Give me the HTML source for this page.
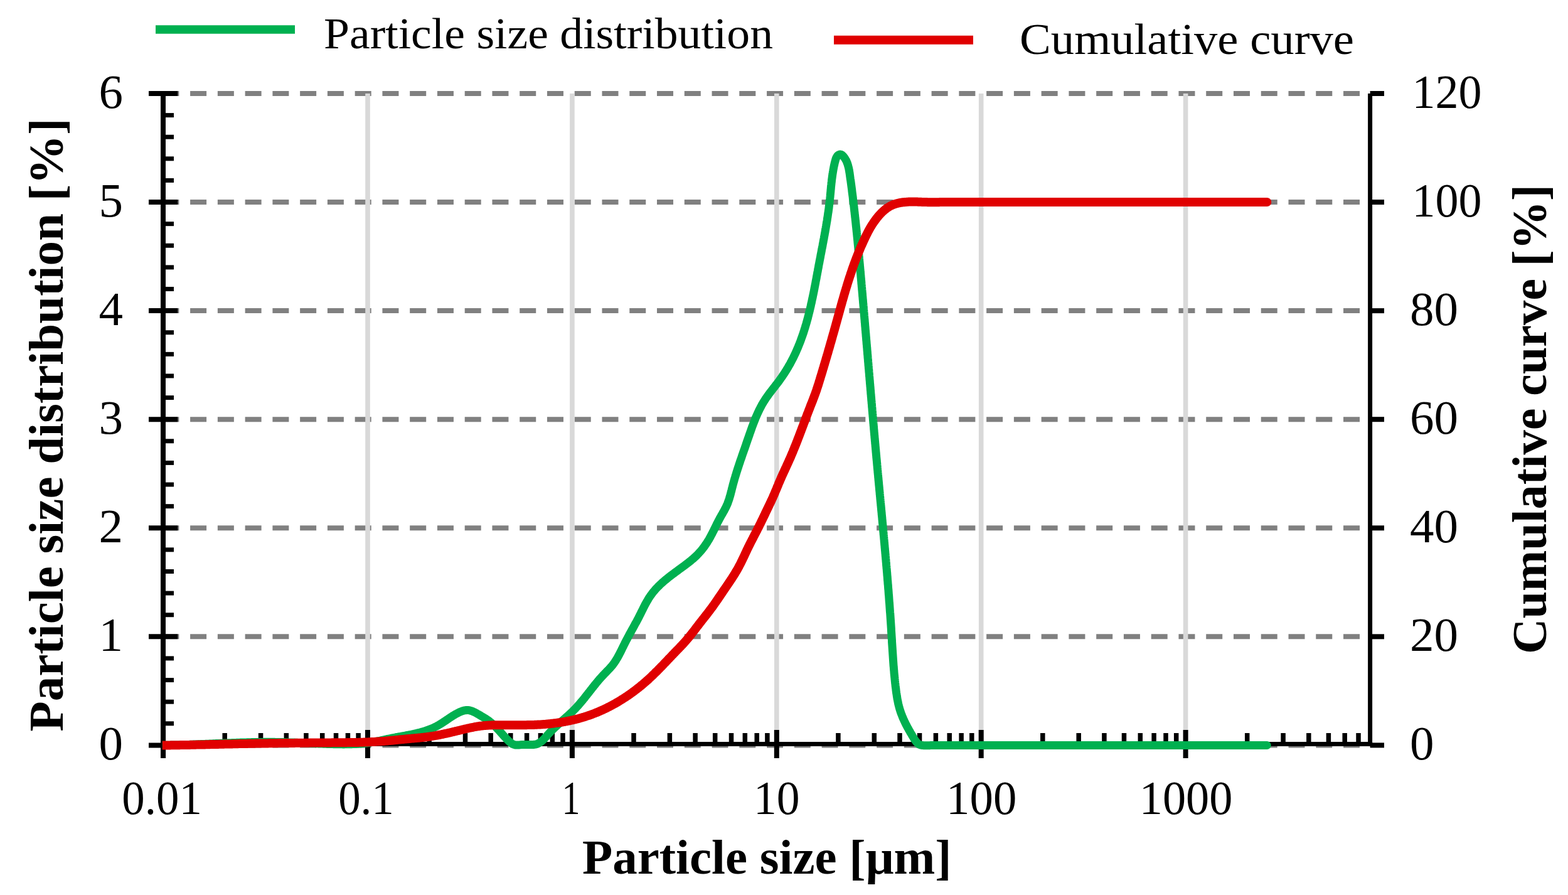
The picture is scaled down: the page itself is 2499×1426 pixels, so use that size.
<!DOCTYPE html><html><head><meta charset="utf-8"><title>Particle size distribution</title><style>html,body{margin:0;padding:0;background:#fff;width:2499px;height:1426px;overflow:hidden}svg{display:block}text{font-family:"Liberation Serif",serif;fill:#000}</style></head><body>
<svg width="2499" height="1426" viewBox="0 0 2499 1426">
<rect width="2499" height="1426" fill="#fff"/>
<line x1="259.34" y1="1187.40" x2="2183.6" y2="1187.40" stroke="#808080" stroke-width="8" stroke-dasharray="26 17.76"/>
<line x1="259.34" y1="1014.33" x2="2183.6" y2="1014.33" stroke="#808080" stroke-width="8" stroke-dasharray="26 17.76"/>
<line x1="259.34" y1="841.26" x2="2183.6" y2="841.26" stroke="#808080" stroke-width="8" stroke-dasharray="26 17.76"/>
<line x1="259.34" y1="668.19" x2="2183.6" y2="668.19" stroke="#808080" stroke-width="8" stroke-dasharray="26 17.76"/>
<line x1="259.34" y1="495.12" x2="2183.6" y2="495.12" stroke="#808080" stroke-width="8" stroke-dasharray="26 17.76"/>
<line x1="259.34" y1="322.05" x2="2183.6" y2="322.05" stroke="#808080" stroke-width="8" stroke-dasharray="26 17.76"/>
<line x1="259.34" y1="148.98" x2="2183.6" y2="148.98" stroke="#808080" stroke-width="8" stroke-dasharray="26 17.76"/>
<line x1="586.00" y1="149" x2="586.00" y2="1186" stroke="#d9d9d9" stroke-width="7.6"/>
<line x1="911.90" y1="149" x2="911.90" y2="1186" stroke="#d9d9d9" stroke-width="7.6"/>
<line x1="1237.80" y1="149" x2="1237.80" y2="1186" stroke="#d9d9d9" stroke-width="7.6"/>
<line x1="1563.70" y1="149" x2="1563.70" y2="1186" stroke="#d9d9d9" stroke-width="7.6"/>
<line x1="1889.60" y1="149" x2="1889.60" y2="1186" stroke="#d9d9d9" stroke-width="7.6"/>
<line x1="260" y1="147" x2="260" y2="1208" stroke="#000" stroke-width="8"/>
<line x1="2183.6" y1="149" x2="2183.6" y2="1188.8" stroke="#000" stroke-width="7"/>
<line x1="256" y1="1185.4" x2="2187.1" y2="1185.4" stroke="#000" stroke-width="7"/>
<line x1="237" y1="1187.40" x2="283.3" y2="1187.40" stroke="#000" stroke-width="8"/>
<line x1="262" y1="1152.79" x2="277" y2="1152.79" stroke="#000" stroke-width="7"/>
<line x1="262" y1="1118.17" x2="277" y2="1118.17" stroke="#000" stroke-width="7"/>
<line x1="262" y1="1083.56" x2="277" y2="1083.56" stroke="#000" stroke-width="7"/>
<line x1="262" y1="1048.94" x2="277" y2="1048.94" stroke="#000" stroke-width="7"/>
<line x1="237" y1="1014.33" x2="283.3" y2="1014.33" stroke="#000" stroke-width="8"/>
<line x1="262" y1="979.72" x2="277" y2="979.72" stroke="#000" stroke-width="7"/>
<line x1="262" y1="945.10" x2="277" y2="945.10" stroke="#000" stroke-width="7"/>
<line x1="262" y1="910.49" x2="277" y2="910.49" stroke="#000" stroke-width="7"/>
<line x1="262" y1="875.87" x2="277" y2="875.87" stroke="#000" stroke-width="7"/>
<line x1="237" y1="841.26" x2="283.3" y2="841.26" stroke="#000" stroke-width="8"/>
<line x1="262" y1="806.65" x2="277" y2="806.65" stroke="#000" stroke-width="7"/>
<line x1="262" y1="772.03" x2="277" y2="772.03" stroke="#000" stroke-width="7"/>
<line x1="262" y1="737.42" x2="277" y2="737.42" stroke="#000" stroke-width="7"/>
<line x1="262" y1="702.80" x2="277" y2="702.80" stroke="#000" stroke-width="7"/>
<line x1="237" y1="668.19" x2="283.3" y2="668.19" stroke="#000" stroke-width="8"/>
<line x1="262" y1="633.58" x2="277" y2="633.58" stroke="#000" stroke-width="7"/>
<line x1="262" y1="598.96" x2="277" y2="598.96" stroke="#000" stroke-width="7"/>
<line x1="262" y1="564.35" x2="277" y2="564.35" stroke="#000" stroke-width="7"/>
<line x1="262" y1="529.73" x2="277" y2="529.73" stroke="#000" stroke-width="7"/>
<line x1="237" y1="495.12" x2="283.3" y2="495.12" stroke="#000" stroke-width="8"/>
<line x1="262" y1="460.51" x2="277" y2="460.51" stroke="#000" stroke-width="7"/>
<line x1="262" y1="425.89" x2="277" y2="425.89" stroke="#000" stroke-width="7"/>
<line x1="262" y1="391.28" x2="277" y2="391.28" stroke="#000" stroke-width="7"/>
<line x1="262" y1="356.66" x2="277" y2="356.66" stroke="#000" stroke-width="7"/>
<line x1="237" y1="322.05" x2="283.3" y2="322.05" stroke="#000" stroke-width="8"/>
<line x1="262" y1="287.44" x2="277" y2="287.44" stroke="#000" stroke-width="7"/>
<line x1="262" y1="252.82" x2="277" y2="252.82" stroke="#000" stroke-width="7"/>
<line x1="262" y1="218.21" x2="277" y2="218.21" stroke="#000" stroke-width="7"/>
<line x1="262" y1="183.59" x2="277" y2="183.59" stroke="#000" stroke-width="7"/>
<line x1="237" y1="148.98" x2="283.3" y2="148.98" stroke="#000" stroke-width="8"/>
<line x1="2183.6" y1="1187.40" x2="2206" y2="1187.40" stroke="#000" stroke-width="8"/>
<line x1="2183.6" y1="1014.33" x2="2206" y2="1014.33" stroke="#000" stroke-width="8"/>
<line x1="2183.6" y1="841.26" x2="2206" y2="841.26" stroke="#000" stroke-width="8"/>
<line x1="2183.6" y1="668.19" x2="2206" y2="668.19" stroke="#000" stroke-width="8"/>
<line x1="2183.6" y1="495.12" x2="2206" y2="495.12" stroke="#000" stroke-width="8"/>
<line x1="2183.6" y1="322.05" x2="2206" y2="322.05" stroke="#000" stroke-width="8"/>
<line x1="2183.6" y1="148.98" x2="2206" y2="148.98" stroke="#000" stroke-width="8"/>
<line x1="260.10" y1="1163" x2="260.10" y2="1208" stroke="#000" stroke-width="8"/>
<line x1="358.21" y1="1168" x2="358.21" y2="1186" stroke="#000" stroke-width="7.5"/>
<line x1="415.59" y1="1168" x2="415.59" y2="1186" stroke="#000" stroke-width="7.5"/>
<line x1="456.31" y1="1168" x2="456.31" y2="1186" stroke="#000" stroke-width="7.5"/>
<line x1="487.89" y1="1168" x2="487.89" y2="1186" stroke="#000" stroke-width="7.5"/>
<line x1="513.70" y1="1168" x2="513.70" y2="1186" stroke="#000" stroke-width="7.5"/>
<line x1="535.52" y1="1168" x2="535.52" y2="1186" stroke="#000" stroke-width="7.5"/>
<line x1="554.42" y1="1168" x2="554.42" y2="1186" stroke="#000" stroke-width="7.5"/>
<line x1="571.09" y1="1168" x2="571.09" y2="1186" stroke="#000" stroke-width="7.5"/>
<line x1="586.00" y1="1163" x2="586.00" y2="1208" stroke="#000" stroke-width="8"/>
<line x1="684.11" y1="1168" x2="684.11" y2="1186" stroke="#000" stroke-width="7.5"/>
<line x1="741.49" y1="1168" x2="741.49" y2="1186" stroke="#000" stroke-width="7.5"/>
<line x1="782.21" y1="1168" x2="782.21" y2="1186" stroke="#000" stroke-width="7.5"/>
<line x1="813.79" y1="1168" x2="813.79" y2="1186" stroke="#000" stroke-width="7.5"/>
<line x1="839.60" y1="1168" x2="839.60" y2="1186" stroke="#000" stroke-width="7.5"/>
<line x1="861.42" y1="1168" x2="861.42" y2="1186" stroke="#000" stroke-width="7.5"/>
<line x1="880.32" y1="1168" x2="880.32" y2="1186" stroke="#000" stroke-width="7.5"/>
<line x1="896.99" y1="1168" x2="896.99" y2="1186" stroke="#000" stroke-width="7.5"/>
<line x1="911.90" y1="1163" x2="911.90" y2="1208" stroke="#000" stroke-width="8"/>
<line x1="1010.01" y1="1168" x2="1010.01" y2="1186" stroke="#000" stroke-width="7.5"/>
<line x1="1067.39" y1="1168" x2="1067.39" y2="1186" stroke="#000" stroke-width="7.5"/>
<line x1="1108.11" y1="1168" x2="1108.11" y2="1186" stroke="#000" stroke-width="7.5"/>
<line x1="1139.69" y1="1168" x2="1139.69" y2="1186" stroke="#000" stroke-width="7.5"/>
<line x1="1165.50" y1="1168" x2="1165.50" y2="1186" stroke="#000" stroke-width="7.5"/>
<line x1="1187.32" y1="1168" x2="1187.32" y2="1186" stroke="#000" stroke-width="7.5"/>
<line x1="1206.22" y1="1168" x2="1206.22" y2="1186" stroke="#000" stroke-width="7.5"/>
<line x1="1222.89" y1="1168" x2="1222.89" y2="1186" stroke="#000" stroke-width="7.5"/>
<line x1="1237.80" y1="1163" x2="1237.80" y2="1208" stroke="#000" stroke-width="8"/>
<line x1="1335.91" y1="1168" x2="1335.91" y2="1186" stroke="#000" stroke-width="7.5"/>
<line x1="1393.29" y1="1168" x2="1393.29" y2="1186" stroke="#000" stroke-width="7.5"/>
<line x1="1434.01" y1="1168" x2="1434.01" y2="1186" stroke="#000" stroke-width="7.5"/>
<line x1="1465.59" y1="1168" x2="1465.59" y2="1186" stroke="#000" stroke-width="7.5"/>
<line x1="1491.40" y1="1168" x2="1491.40" y2="1186" stroke="#000" stroke-width="7.5"/>
<line x1="1513.22" y1="1168" x2="1513.22" y2="1186" stroke="#000" stroke-width="7.5"/>
<line x1="1532.12" y1="1168" x2="1532.12" y2="1186" stroke="#000" stroke-width="7.5"/>
<line x1="1548.79" y1="1168" x2="1548.79" y2="1186" stroke="#000" stroke-width="7.5"/>
<line x1="1563.70" y1="1163" x2="1563.70" y2="1208" stroke="#000" stroke-width="8"/>
<line x1="1661.81" y1="1168" x2="1661.81" y2="1186" stroke="#000" stroke-width="7.5"/>
<line x1="1719.19" y1="1168" x2="1719.19" y2="1186" stroke="#000" stroke-width="7.5"/>
<line x1="1759.91" y1="1168" x2="1759.91" y2="1186" stroke="#000" stroke-width="7.5"/>
<line x1="1791.49" y1="1168" x2="1791.49" y2="1186" stroke="#000" stroke-width="7.5"/>
<line x1="1817.30" y1="1168" x2="1817.30" y2="1186" stroke="#000" stroke-width="7.5"/>
<line x1="1839.12" y1="1168" x2="1839.12" y2="1186" stroke="#000" stroke-width="7.5"/>
<line x1="1858.02" y1="1168" x2="1858.02" y2="1186" stroke="#000" stroke-width="7.5"/>
<line x1="1874.69" y1="1168" x2="1874.69" y2="1186" stroke="#000" stroke-width="7.5"/>
<line x1="1889.60" y1="1163" x2="1889.60" y2="1208" stroke="#000" stroke-width="8"/>
<line x1="1987.71" y1="1168" x2="1987.71" y2="1186" stroke="#000" stroke-width="7.5"/>
<line x1="2045.09" y1="1168" x2="2045.09" y2="1186" stroke="#000" stroke-width="7.5"/>
<line x1="2085.81" y1="1168" x2="2085.81" y2="1186" stroke="#000" stroke-width="7.5"/>
<line x1="2117.39" y1="1168" x2="2117.39" y2="1186" stroke="#000" stroke-width="7.5"/>
<line x1="2143.20" y1="1168" x2="2143.20" y2="1186" stroke="#000" stroke-width="7.5"/>
<line x1="2165.02" y1="1168" x2="2165.02" y2="1186" stroke="#000" stroke-width="7.5"/>
<defs><clipPath id="pc"><rect x="258.8" y="100" width="2000" height="1200"/></clipPath></defs>
<g clip-path="url(#pc)">
<path d="M259.0,1187.3L260.5,1187.3 262.0,1187.3 263.5,1187.3 265.0,1187.2 266.5,1187.2 268.0,1187.2 269.5,1187.2 271.0,1187.2 272.5,1187.1 274.0,1187.1 275.5,1187.1 277.0,1187.0 278.5,1187.0 280.0,1187.0 281.5,1186.9 283.0,1186.9 284.5,1186.9 286.0,1186.8 287.5,1186.8 289.0,1186.7 290.5,1186.7 292.0,1186.7 293.5,1186.6 295.0,1186.6 296.5,1186.5 298.0,1186.5 299.5,1186.4 301.0,1186.4 302.5,1186.3 304.0,1186.3 305.5,1186.2 307.0,1186.2 308.5,1186.1 310.0,1186.1 311.5,1186.0 313.0,1185.9 314.5,1185.9 316.0,1185.8 317.5,1185.8 319.0,1185.7 320.5,1185.6 322.0,1185.6 323.5,1185.5 325.0,1185.5 326.5,1185.4 328.0,1185.3 329.5,1185.3 331.0,1185.2 332.5,1185.2 333.9,1185.1 335.4,1185.0 336.9,1185.0 338.4,1184.9 339.9,1184.8 341.4,1184.8 342.9,1184.7 344.4,1184.6 345.9,1184.6 347.4,1184.5 348.9,1184.5 350.4,1184.4 351.9,1184.3 353.4,1184.3 354.9,1184.2 356.4,1184.1 357.9,1184.1 359.4,1184.0 360.9,1184.0 362.4,1183.9 363.9,1183.8 365.4,1183.8 366.9,1183.7 368.4,1183.7 369.9,1183.6 371.4,1183.6 372.9,1183.5 374.4,1183.4 375.9,1183.4 377.4,1183.3 378.9,1183.3 380.4,1183.2 381.9,1183.2 383.4,1183.1 384.9,1183.1 386.4,1183.0 387.9,1183.0 389.4,1183.0 390.9,1182.9 392.4,1182.9 393.9,1182.8 395.4,1182.8 396.9,1182.7 398.4,1182.7 399.9,1182.7 401.4,1182.6 402.9,1182.6 404.4,1182.6 405.9,1182.5 407.4,1182.5 408.9,1182.5 410.4,1182.5 411.9,1182.4 413.4,1182.4 414.9,1182.4 416.4,1182.4 417.9,1182.4 419.4,1182.4 420.9,1182.3 422.4,1182.3 423.9,1182.3 425.4,1182.3 426.9,1182.3 428.4,1182.3 429.9,1182.3 431.4,1182.3 432.9,1182.3 434.4,1182.3 435.9,1182.3 437.4,1182.3 438.9,1182.4 440.4,1182.4 441.9,1182.4 443.4,1182.4 444.9,1182.4 446.4,1182.5 447.9,1182.5 449.4,1182.5 450.9,1182.6 452.4,1182.6 453.9,1182.6 455.4,1182.7 456.9,1182.7 458.4,1182.8 459.9,1182.8 461.4,1182.9 462.9,1182.9 464.4,1183.0 465.9,1183.0 467.4,1183.1 468.9,1183.1 470.4,1183.2 471.9,1183.3 473.4,1183.3 474.9,1183.4 476.4,1183.5 477.9,1183.5 479.4,1183.6 480.9,1183.6 482.4,1183.7 483.9,1183.8 485.4,1183.9 486.9,1183.9 488.4,1184.0 489.9,1184.1 491.4,1184.1 492.9,1184.2 494.4,1184.3 495.9,1184.3 497.4,1184.4 498.9,1184.5 500.4,1184.5 501.8,1184.6 503.3,1184.7 504.8,1184.7 506.3,1184.8 507.8,1184.9 509.3,1184.9 510.8,1185.0 512.3,1185.1 513.8,1185.1 515.3,1185.2 516.8,1185.2 518.3,1185.3 519.8,1185.3 521.3,1185.4 522.8,1185.4 524.3,1185.5 525.8,1185.5 527.3,1185.6 528.8,1185.6 530.3,1185.6 531.8,1185.7 533.3,1185.7 534.8,1185.7 536.3,1185.8 537.8,1185.8 539.3,1185.8 540.8,1185.8 542.3,1185.8 543.8,1185.8 545.3,1185.8 546.8,1185.9 548.3,1185.9 549.8,1185.8 551.3,1185.8 552.8,1185.8 554.3,1185.8 555.8,1185.8 557.3,1185.8 558.8,1185.7 560.3,1185.7 561.8,1185.6 563.3,1185.6 564.8,1185.5 566.3,1185.4 567.8,1185.4 569.3,1185.3 570.8,1185.2 572.3,1185.1 573.8,1185.0 575.3,1184.9 576.7,1184.7 578.2,1184.6 579.7,1184.4 581.2,1184.3 582.7,1184.1 584.2,1183.9 585.6,1183.8 587.1,1183.6 588.6,1183.3 590.1,1183.1 591.5,1182.9 593.0,1182.6 594.5,1182.4 595.9,1182.1 597.4,1181.8 598.8,1181.5 600.3,1181.2 601.8,1180.9 603.2,1180.6 604.7,1180.3 606.1,1180.0 607.6,1179.7 609.1,1179.3 610.5,1179.0 612.0,1178.7 613.4,1178.4 614.9,1178.0 616.4,1177.7 617.8,1177.4 619.3,1177.1 620.8,1176.8 622.2,1176.5 623.7,1176.2 625.2,1175.9 626.7,1175.6 628.2,1175.3 629.7,1175.0 631.2,1174.7 632.6,1174.4 634.1,1174.2 635.6,1173.9 637.1,1173.6 638.6,1173.4 640.1,1173.1 641.6,1172.8 643.1,1172.6 644.6,1172.3 646.1,1172.0 647.6,1171.7 649.1,1171.4 650.5,1171.2 652.0,1170.9 653.5,1170.6 655.0,1170.3 656.5,1170.0 657.9,1169.7 659.4,1169.4 660.9,1169.0 662.4,1168.7 663.8,1168.4 665.3,1168.0 666.7,1167.6 668.2,1167.3 669.6,1166.9 671.1,1166.5 672.5,1166.1 674.0,1165.7 675.4,1165.3 676.8,1164.8 678.2,1164.4 679.6,1163.9 681.0,1163.4 682.4,1162.9 683.8,1162.4 685.2,1161.9 686.6,1161.3 687.9,1160.8 689.3,1160.2 690.6,1159.6 692.0,1159.0 693.3,1158.3 694.6,1157.7 696.0,1157.0 697.3,1156.3 698.6,1155.5 699.8,1154.8 701.1,1154.0 702.4,1153.3 703.7,1152.5 704.9,1151.7 706.2,1150.8 707.4,1150.0 708.7,1149.2 710.0,1148.3 711.2,1147.5 712.5,1146.6 713.7,1145.8 715.0,1144.9 716.2,1144.1 717.5,1143.2 718.8,1142.4 720.0,1141.6 721.3,1140.8 722.6,1139.9 723.9,1139.2 725.2,1138.4 726.6,1137.6 727.9,1136.9 729.3,1136.2 730.6,1135.5 732.0,1134.8 733.4,1134.2 734.8,1133.6 736.2,1133.1 737.6,1132.6 739.1,1132.2 740.5,1131.9 741.9,1131.7 743.3,1131.5 744.7,1131.5 746.2,1131.6 747.6,1131.7 749.0,1132.0 750.4,1132.4 751.8,1132.9 753.2,1133.4 754.5,1134.0 755.9,1134.6 757.3,1135.3 758.7,1136.0 760.0,1136.8 761.4,1137.6 762.7,1138.3 764.1,1139.1 765.4,1139.9 766.7,1140.7 768.0,1141.5 769.3,1142.3 770.6,1143.0 771.9,1143.8 773.2,1144.6 774.5,1145.4 775.7,1146.2 776.9,1147.1 778.2,1147.9 779.3,1148.8 780.5,1149.7 781.7,1150.6 782.8,1151.5 783.9,1152.5 785.0,1153.4 786.1,1154.4 787.2,1155.5 788.3,1156.5 789.3,1157.5 790.4,1158.6 791.4,1159.7 792.4,1160.8 793.4,1161.9 794.5,1163.0 795.5,1164.1 796.5,1165.2 797.5,1166.3 798.5,1167.4 799.5,1168.6 800.5,1169.7 801.5,1170.8 802.5,1172.0 803.5,1173.1 804.6,1174.2 805.6,1175.4 806.6,1176.5 807.7,1177.6 808.8,1178.7 809.8,1179.8 810.9,1180.8 812.0,1181.9 813.2,1182.8 814.3,1183.7 815.5,1184.6 816.7,1185.3 818.0,1185.9 819.3,1186.4 820.6,1186.8 822.0,1187.0 823.4,1187.1 824.8,1187.1 826.3,1187.0 827.8,1186.9 829.4,1186.7 830.9,1186.6 832.5,1186.5 834.1,1186.4 835.7,1186.4 837.3,1186.4 839.0,1186.4 840.6,1186.5 842.2,1186.5 843.8,1186.6 845.4,1186.6 846.9,1186.6 848.5,1186.6 850.0,1186.5 851.5,1186.3 852.9,1186.1 854.3,1185.8 855.7,1185.4 857.0,1185.0 858.2,1184.4 859.4,1183.7 860.6,1183.0 861.8,1182.2 862.9,1181.3 864.0,1180.4 865.1,1179.4 866.1,1178.4 867.1,1177.3 868.1,1176.2 869.2,1175.1 870.2,1173.9 871.2,1172.8 872.2,1171.7 873.2,1170.5 874.2,1169.4 875.2,1168.3 876.3,1167.2 877.3,1166.1 878.4,1165.0 879.4,1163.9 880.5,1162.8 881.6,1161.8 882.6,1160.7 883.7,1159.7 884.8,1158.6 885.9,1157.6 887.0,1156.6 888.1,1155.6 889.2,1154.6 890.4,1153.6 891.5,1152.6 892.6,1151.6 893.7,1150.6 894.8,1149.6 895.9,1148.6 897.1,1147.6 898.2,1146.6 899.3,1145.6 900.4,1144.6 901.5,1143.6 902.7,1142.6 903.8,1141.6 904.9,1140.6 906.0,1139.6 907.1,1138.6 908.2,1137.6 909.2,1136.6 910.3,1135.6 911.4,1134.5 912.5,1133.5 913.5,1132.5 914.6,1131.4 915.6,1130.3 916.7,1129.3 917.7,1128.2 918.7,1127.1 919.7,1126.0 920.7,1124.9 921.7,1123.8 922.7,1122.6 923.7,1121.5 924.7,1120.4 925.6,1119.2 926.6,1118.1 927.6,1116.9 928.5,1115.8 929.5,1114.6 930.4,1113.5 931.4,1112.3 932.3,1111.1 933.2,1109.9 934.2,1108.7 935.1,1107.6 936.0,1106.4 937.0,1105.2 937.9,1104.0 938.8,1102.8 939.8,1101.6 940.7,1100.4 941.6,1099.3 942.5,1098.1 943.5,1096.9 944.4,1095.7 945.4,1094.5 946.3,1093.3 947.2,1092.2 948.2,1091.0 949.1,1089.8 950.1,1088.6 951.0,1087.5 952.0,1086.3 953.0,1085.2 953.9,1084.0 954.9,1082.9 955.9,1081.7 956.9,1080.6 957.9,1079.5 958.9,1078.4 959.9,1077.3 960.9,1076.2 962.0,1075.1 963.0,1074.0 964.1,1072.9 965.1,1071.8 966.1,1070.8 967.2,1069.7 968.2,1068.6 969.3,1067.5 970.3,1066.5 971.3,1065.4 972.3,1064.3 973.3,1063.2 974.3,1062.0 975.3,1060.9 976.2,1059.8 977.1,1058.6 978.0,1057.4 978.9,1056.2 979.7,1055.0 980.5,1053.7 981.4,1052.5 982.1,1051.2 982.9,1049.9 983.7,1048.6 984.4,1047.3 985.2,1046.0 985.9,1044.7 986.6,1043.4 987.3,1042.0 988.0,1040.7 988.7,1039.4 989.4,1038.0 990.0,1036.7 990.7,1035.3 991.4,1033.9 992.0,1032.6 992.7,1031.2 993.4,1029.9 994.0,1028.5 994.7,1027.2 995.4,1025.8 996.0,1024.5 996.7,1023.1 997.4,1021.8 998.1,1020.4 998.8,1019.1 999.5,1017.8 1000.2,1016.5 1000.9,1015.2 1001.6,1013.8 1002.3,1012.5 1003.0,1011.2 1003.7,1009.9 1004.4,1008.6 1005.1,1007.3 1005.9,1006.0 1006.6,1004.7 1007.3,1003.4 1008.0,1002.1 1008.7,1000.8 1009.5,999.5 1010.2,998.2 1010.9,996.8 1011.6,995.5 1012.3,994.2 1013.0,992.9 1013.8,991.6 1014.5,990.3 1015.2,989.0 1015.9,987.6 1016.6,986.3 1017.3,985.0 1018.0,983.6 1018.7,982.3 1019.3,981.0 1020.0,979.6 1020.7,978.3 1021.4,976.9 1022.1,975.5 1022.7,974.2 1023.4,972.8 1024.1,971.5 1024.8,970.1 1025.4,968.8 1026.1,967.4 1026.8,966.1 1027.5,964.7 1028.2,963.4 1028.9,962.0 1029.7,960.7 1030.4,959.4 1031.1,958.1 1031.9,956.8 1032.7,955.5 1033.4,954.2 1034.2,952.9 1035.0,951.7 1035.9,950.4 1036.7,949.2 1037.6,948.0 1038.4,946.8 1039.3,945.6 1040.2,944.4 1041.2,943.2 1042.1,942.1 1043.1,941.0 1044.0,939.8 1045.0,938.7 1046.0,937.6 1047.0,936.5 1048.1,935.5 1049.1,934.4 1050.2,933.4 1051.2,932.3 1052.3,931.3 1053.4,930.3 1054.5,929.3 1055.6,928.2 1056.8,927.3 1057.9,926.3 1059.0,925.3 1060.2,924.3 1061.3,923.4 1062.5,922.4 1063.7,921.5 1064.8,920.5 1066.0,919.6 1067.2,918.6 1068.4,917.7 1069.6,916.8 1070.8,915.9 1072.0,915.0 1073.2,914.1 1074.4,913.2 1075.6,912.3 1076.8,911.4 1078.1,910.5 1079.3,909.6 1080.5,908.7 1081.7,907.8 1082.9,906.9 1084.1,906.0 1085.4,905.1 1086.6,904.2 1087.8,903.4 1089.0,902.5 1090.2,901.6 1091.4,900.7 1092.6,899.8 1093.8,898.9 1094.9,898.0 1096.1,897.1 1097.3,896.2 1098.5,895.3 1099.6,894.4 1100.8,893.4 1101.9,892.5 1103.0,891.5 1104.2,890.6 1105.3,889.6 1106.4,888.6 1107.5,887.6 1108.6,886.6 1109.7,885.6 1110.7,884.6 1111.8,883.5 1112.8,882.4 1113.8,881.3 1114.8,880.2 1115.8,879.1 1116.8,878.0 1117.8,876.8 1118.8,875.6 1119.7,874.5 1120.6,873.2 1121.6,872.0 1122.5,870.8 1123.3,869.6 1124.2,868.3 1125.1,867.0 1125.9,865.8 1126.8,864.5 1127.6,863.2 1128.4,861.9 1129.2,860.6 1130.0,859.3 1130.7,858.0 1131.5,856.7 1132.2,855.4 1132.9,854.0 1133.6,852.7 1134.3,851.4 1135.0,850.1 1135.7,848.7 1136.3,847.4 1137.0,846.1 1137.7,844.8 1138.3,843.4 1139.0,842.1 1139.6,840.8 1140.3,839.4 1140.9,838.1 1141.6,836.8 1142.2,835.4 1142.9,834.1 1143.5,832.8 1144.2,831.5 1144.9,830.1 1145.6,828.8 1146.3,827.5 1147.0,826.2 1147.7,824.9 1148.4,823.6 1149.2,822.2 1149.9,820.9 1150.7,819.6 1151.4,818.3 1152.2,817.0 1152.9,815.7 1153.7,814.4 1154.4,813.1 1155.1,811.7 1155.8,810.4 1156.5,809.0 1157.2,807.7 1157.8,806.3 1158.4,805.0 1159.0,803.6 1159.6,802.2 1160.1,800.8 1160.6,799.4 1161.1,797.9 1161.6,796.5 1162.1,795.1 1162.5,793.7 1162.9,792.2 1163.4,790.8 1163.8,789.3 1164.2,787.9 1164.6,786.4 1164.9,785.0 1165.3,783.5 1165.7,782.1 1166.1,780.6 1166.4,779.1 1166.8,777.7 1167.2,776.2 1167.6,774.8 1167.9,773.3 1168.3,771.9 1168.7,770.4 1169.1,769.0 1169.5,767.5 1169.9,766.1 1170.3,764.6 1170.7,763.2 1171.1,761.8 1171.6,760.3 1172.0,758.9 1172.4,757.5 1172.9,756.1 1173.3,754.6 1173.7,753.2 1174.2,751.8 1174.6,750.4 1175.1,749.0 1175.5,747.5 1176.0,746.1 1176.5,744.7 1176.9,743.3 1177.4,741.9 1177.8,740.5 1178.3,739.1 1178.8,737.6 1179.3,736.2 1179.7,734.8 1180.2,733.4 1180.7,732.0 1181.2,730.6 1181.7,729.2 1182.2,727.8 1182.6,726.4 1183.1,725.0 1183.6,723.5 1184.1,722.1 1184.6,720.7 1185.1,719.3 1185.6,717.9 1186.1,716.5 1186.6,715.1 1187.1,713.7 1187.6,712.2 1188.1,710.8 1188.6,709.4 1189.0,708.0 1189.5,706.6 1190.0,705.1 1190.5,703.7 1191.0,702.3 1191.5,700.9 1192.0,699.4 1192.5,698.0 1193.0,696.6 1193.5,695.1 1194.0,693.7 1194.5,692.3 1195.0,690.8 1195.5,689.4 1196.0,688.0 1196.5,686.6 1197.0,685.1 1197.5,683.7 1198.0,682.3 1198.5,680.9 1199.0,679.4 1199.6,678.0 1200.1,676.6 1200.6,675.2 1201.2,673.8 1201.7,672.4 1202.3,671.0 1202.8,669.6 1203.4,668.2 1203.9,666.8 1204.5,665.4 1205.1,664.0 1205.7,662.6 1206.3,661.2 1206.9,659.9 1207.5,658.5 1208.2,657.2 1208.8,655.8 1209.4,654.5 1210.1,653.1 1210.7,651.8 1211.4,650.5 1212.1,649.1 1212.8,647.8 1213.5,646.5 1214.2,645.2 1214.9,643.9 1215.7,642.6 1216.4,641.4 1217.2,640.1 1218.0,638.8 1218.8,637.6 1219.6,636.4 1220.4,635.1 1221.2,633.9 1222.1,632.7 1222.9,631.5 1223.8,630.3 1224.6,629.1 1225.5,627.9 1226.4,626.7 1227.3,625.5 1228.2,624.3 1229.1,623.1 1230.0,622.0 1230.9,620.8 1231.8,619.6 1232.7,618.4 1233.7,617.3 1234.6,616.1 1235.5,614.9 1236.4,613.7 1237.3,612.5 1238.3,611.4 1239.2,610.2 1240.1,609.0 1241.0,607.8 1241.9,606.6 1242.8,605.3 1243.6,604.1 1244.5,602.9 1245.4,601.6 1246.3,600.4 1247.1,599.2 1248.0,597.9 1248.8,596.6 1249.7,595.4 1250.5,594.1 1251.3,592.8 1252.1,591.5 1252.9,590.3 1253.7,589.0 1254.5,587.7 1255.3,586.4 1256.1,585.1 1256.8,583.7 1257.6,582.4 1258.3,581.1 1259.1,579.8 1259.8,578.5 1260.5,577.2 1261.2,575.8 1261.9,574.5 1262.6,573.2 1263.3,571.8 1264.0,570.5 1264.7,569.1 1265.3,567.8 1266.0,566.4 1266.6,565.1 1267.3,563.7 1267.9,562.4 1268.5,561.0 1269.1,559.7 1269.7,558.3 1270.3,556.9 1270.9,555.5 1271.5,554.2 1272.1,552.8 1272.6,551.4 1273.2,550.0 1273.7,548.7 1274.3,547.3 1274.8,545.9 1275.4,544.5 1275.9,543.1 1276.4,541.7 1276.9,540.3 1277.4,538.9 1277.9,537.5 1278.4,536.1 1278.9,534.7 1279.4,533.3 1279.9,531.9 1280.4,530.5 1280.8,529.0 1281.3,527.6 1281.7,526.2 1282.2,524.8 1282.6,523.4 1283.1,521.9 1283.5,520.5 1283.9,519.1 1284.3,517.7 1284.8,516.2 1285.2,514.8 1285.6,513.4 1286.0,511.9 1286.4,510.5 1286.8,509.0 1287.2,507.6 1287.6,506.2 1287.9,504.7 1288.3,503.3 1288.7,501.8 1289.0,500.4 1289.4,498.9 1289.8,497.5 1290.1,496.0 1290.5,494.6 1290.8,493.1 1291.2,491.6 1291.5,490.2 1291.9,488.7 1292.2,487.3 1292.5,485.8 1292.8,484.3 1293.2,482.9 1293.5,481.4 1293.8,479.9 1294.1,478.5 1294.4,477.0 1294.8,475.5 1295.1,474.1 1295.4,472.6 1295.7,471.1 1296.0,469.7 1296.3,468.2 1296.6,466.7 1296.9,465.2 1297.2,463.8 1297.5,462.3 1297.8,460.8 1298.1,459.3 1298.3,457.9 1298.6,456.4 1298.9,454.9 1299.2,453.4 1299.5,451.9 1299.8,450.5 1300.0,449.0 1300.3,447.5 1300.6,446.0 1300.9,444.5 1301.2,443.1 1301.4,441.6 1301.7,440.1 1302.0,438.6 1302.3,437.1 1302.5,435.6 1302.8,434.2 1303.1,432.7 1303.4,431.2 1303.6,429.7 1303.9,428.2 1304.2,426.8 1304.5,425.3 1304.7,423.8 1305.0,422.3 1305.3,420.8 1305.6,419.3 1305.9,417.9 1306.1,416.4 1306.4,414.9 1306.7,413.4 1307.0,411.9 1307.3,410.5 1307.6,409.0 1307.8,407.5 1308.1,406.0 1308.4,404.5 1308.7,403.1 1309.0,401.6 1309.3,400.1 1309.5,398.6 1309.8,397.1 1310.1,395.7 1310.4,394.2 1310.7,392.7 1311.0,391.2 1311.2,389.8 1311.5,388.3 1311.8,386.8 1312.1,385.3 1312.3,383.8 1312.6,382.4 1312.9,380.9 1313.2,379.4 1313.4,377.9 1313.7,376.5 1314.0,375.0 1314.3,373.5 1314.5,372.0 1314.8,370.6 1315.1,369.1 1315.3,367.6 1315.6,366.1 1315.8,364.7 1316.1,363.2 1316.3,361.7 1316.6,360.2 1316.8,358.8 1317.1,357.3 1317.3,355.8 1317.6,354.3 1317.8,352.9 1318.1,351.4 1318.3,349.9 1318.5,348.4 1318.7,347.0 1319.0,345.5 1319.2,344.0 1319.4,342.5 1319.6,341.1 1319.8,339.6 1320.1,338.1 1320.3,336.6 1320.5,335.2 1320.7,333.7 1320.9,332.2 1321.1,330.7 1321.2,329.3 1321.4,327.8 1321.6,326.3 1321.8,324.8 1322.0,323.4 1322.1,321.9 1322.3,320.4 1322.5,318.9 1322.6,317.5 1322.8,316.0 1322.9,314.5 1323.1,313.0 1323.2,311.6 1323.3,310.1 1323.5,308.6 1323.6,307.1 1323.8,305.6 1323.9,304.2 1324.0,302.7 1324.2,301.2 1324.3,299.7 1324.4,298.2 1324.6,296.7 1324.7,295.3 1324.9,293.8 1325.0,292.3 1325.2,290.8 1325.4,289.3 1325.5,287.8 1325.7,286.3 1325.9,284.8 1326.1,283.3 1326.3,281.8 1326.5,280.3 1326.7,278.8 1326.9,277.3 1327.2,275.7 1327.4,274.2 1327.7,272.7 1327.9,271.2 1328.2,269.7 1328.5,268.1 1328.8,266.6 1329.1,265.1 1329.4,263.5 1329.8,262.0 1330.1,260.4 1330.5,258.9 1330.9,257.3 1331.3,255.8 1331.7,254.3 1332.2,252.8 1332.8,251.4 1333.5,250.1 1334.2,248.9 1335.1,247.9 1336.2,247.0 1337.3,246.4 1338.6,246.0 1339.8,246.0 1340.9,246.4 1342.0,247.1 1343.1,248.0 1344.1,249.0 1345.0,250.1 1345.9,251.3 1346.7,252.5 1347.4,253.7 1348.1,254.9 1348.8,256.2 1349.4,257.5 1349.9,258.8 1350.4,260.2 1350.9,261.5 1351.3,262.9 1351.7,264.3 1352.1,265.8 1352.5,267.2 1352.8,268.7 1353.1,270.1 1353.3,271.6 1353.6,273.1 1353.8,274.6 1354.1,276.1 1354.3,277.6 1354.5,279.1 1354.7,280.6 1354.9,282.1 1355.1,283.7 1355.3,285.2 1355.6,286.7 1355.8,288.2 1356.0,289.7 1356.2,291.2 1356.4,292.7 1356.6,294.2 1356.8,295.7 1357.0,297.2 1357.2,298.7 1357.4,300.2 1357.6,301.7 1357.8,303.2 1357.9,304.7 1358.1,306.2 1358.3,307.7 1358.5,309.2 1358.7,310.7 1358.9,312.2 1359.1,313.7 1359.3,315.2 1359.4,316.7 1359.6,318.2 1359.8,319.7 1360.0,321.2 1360.2,322.7 1360.4,324.2 1360.5,325.7 1360.7,327.2 1360.9,328.7 1361.1,330.2 1361.2,331.7 1361.4,333.2 1361.6,334.7 1361.7,336.2 1361.9,337.7 1362.1,339.2 1362.2,340.7 1362.4,342.2 1362.6,343.7 1362.7,345.2 1362.9,346.7 1363.1,348.2 1363.2,349.6 1363.4,351.1 1363.6,352.6 1363.7,354.1 1363.9,355.6 1364.0,357.1 1364.2,358.6 1364.3,360.1 1364.5,361.6 1364.7,363.1 1364.8,364.6 1365.0,366.1 1365.1,367.6 1365.3,369.1 1365.4,370.5 1365.6,372.0 1365.7,373.5 1365.9,375.0 1366.0,376.5 1366.2,378.0 1366.3,379.5 1366.5,381.0 1366.6,382.5 1366.8,384.0 1366.9,385.5 1367.0,386.9 1367.2,388.4 1367.3,389.9 1367.5,391.4 1367.6,392.9 1367.8,394.4 1367.9,395.9 1368.0,397.4 1368.2,398.9 1368.3,400.4 1368.5,401.8 1368.6,403.3 1368.7,404.8 1368.9,406.3 1369.0,407.8 1369.2,409.3 1369.3,410.8 1369.4,412.3 1369.6,413.8 1369.7,415.3 1369.8,416.7 1370.0,418.2 1370.1,419.7 1370.3,421.2 1370.4,422.7 1370.5,424.2 1370.7,425.7 1370.8,427.2 1370.9,428.7 1371.1,430.2 1371.2,431.6 1371.3,433.1 1371.5,434.6 1371.6,436.1 1371.7,437.6 1371.9,439.1 1372.0,440.6 1372.1,442.1 1372.3,443.6 1372.4,445.1 1372.5,446.6 1372.7,448.0 1372.8,449.5 1372.9,451.0 1373.0,452.5 1373.2,454.0 1373.3,455.5 1373.4,457.0 1373.6,458.5 1373.7,460.0 1373.8,461.5 1374.0,463.0 1374.1,464.5 1374.2,465.9 1374.4,467.4 1374.5,468.9 1374.6,470.4 1374.7,471.9 1374.9,473.4 1375.0,474.9 1375.1,476.4 1375.3,477.9 1375.4,479.4 1375.5,480.9 1375.6,482.4 1375.8,483.9 1375.9,485.3 1376.0,486.8 1376.2,488.3 1376.3,489.8 1376.4,491.3 1376.5,492.8 1376.7,494.3 1376.8,495.8 1376.9,497.3 1377.1,498.8 1377.2,500.3 1377.3,501.8 1377.4,503.3 1377.6,504.8 1377.7,506.3 1377.8,507.7 1378.0,509.2 1378.1,510.7 1378.2,512.2 1378.3,513.7 1378.5,515.2 1378.6,516.7 1378.7,518.2 1378.8,519.7 1379.0,521.2 1379.1,522.7 1379.2,524.2 1379.3,525.7 1379.5,527.2 1379.6,528.7 1379.7,530.2 1379.9,531.7 1380.0,533.2 1380.1,534.6 1380.2,536.1 1380.4,537.6 1380.5,539.1 1380.6,540.6 1380.7,542.1 1380.9,543.6 1381.0,545.1 1381.1,546.6 1381.2,548.1 1381.4,549.6 1381.5,551.1 1381.6,552.6 1381.8,554.1 1381.9,555.6 1382.0,557.1 1382.1,558.6 1382.3,560.1 1382.4,561.6 1382.5,563.1 1382.6,564.6 1382.8,566.0 1382.9,567.5 1383.0,569.0 1383.1,570.5 1383.3,572.0 1383.4,573.5 1383.5,575.0 1383.6,576.5 1383.8,578.0 1383.9,579.5 1384.0,581.0 1384.1,582.5 1384.3,584.0 1384.4,585.5 1384.5,587.0 1384.7,588.5 1384.8,590.0 1384.9,591.5 1385.0,593.0 1385.2,594.5 1385.3,596.0 1385.4,597.5 1385.5,599.0 1385.7,600.5 1385.8,601.9 1385.9,603.4 1386.0,604.9 1386.2,606.4 1386.3,607.9 1386.4,609.4 1386.5,610.9 1386.7,612.4 1386.8,613.9 1386.9,615.4 1387.1,616.9 1387.2,618.4 1387.3,619.9 1387.4,621.4 1387.6,622.9 1387.7,624.4 1387.8,625.9 1387.9,627.4 1388.1,628.9 1388.2,630.4 1388.3,631.9 1388.5,633.4 1388.6,634.9 1388.7,636.4 1388.8,637.9 1389.0,639.4 1389.1,640.8 1389.2,642.3 1389.4,643.8 1389.5,645.3 1389.6,646.8 1389.7,648.3 1389.9,649.8 1390.0,651.3 1390.1,652.8 1390.2,654.3 1390.4,655.8 1390.5,657.3 1390.6,658.8 1390.8,660.3 1390.9,661.8 1391.0,663.3 1391.2,664.8 1391.3,666.3 1391.4,667.8 1391.5,669.3 1391.7,670.8 1391.8,672.3 1391.9,673.8 1392.1,675.3 1392.2,676.8 1392.3,678.2 1392.5,679.7 1392.6,681.2 1392.7,682.7 1392.8,684.2 1393.0,685.7 1393.1,687.2 1393.2,688.7 1393.4,690.2 1393.5,691.7 1393.6,693.2 1393.8,694.7 1393.9,696.2 1394.0,697.7 1394.2,699.2 1394.3,700.7 1394.4,702.2 1394.6,703.7 1394.7,705.2 1394.8,706.7 1395.0,708.2 1395.1,709.6 1395.2,711.1 1395.4,712.6 1395.5,714.1 1395.6,715.6 1395.8,717.1 1395.9,718.6 1396.0,720.1 1396.2,721.6 1396.3,723.1 1396.4,724.6 1396.6,726.1 1396.7,727.6 1396.8,729.1 1397.0,730.6 1397.1,732.1 1397.3,733.6 1397.4,735.1 1397.5,736.6 1397.7,738.0 1397.8,739.5 1397.9,741.0 1398.1,742.5 1398.2,744.0 1398.3,745.5 1398.5,747.0 1398.6,748.5 1398.8,750.0 1398.9,751.5 1399.0,753.0 1399.2,754.5 1399.3,756.0 1399.5,757.5 1399.6,759.0 1399.7,760.5 1399.9,761.9 1400.0,763.4 1400.1,764.9 1400.3,766.4 1400.4,767.9 1400.6,769.4 1400.7,770.9 1400.8,772.4 1401.0,773.9 1401.1,775.4 1401.3,776.9 1401.4,778.4 1401.5,779.9 1401.7,781.4 1401.8,782.9 1402.0,784.3 1402.1,785.8 1402.2,787.3 1402.4,788.8 1402.5,790.3 1402.7,791.8 1402.8,793.3 1402.9,794.8 1403.1,796.3 1403.2,797.8 1403.4,799.3 1403.5,800.8 1403.7,802.3 1403.8,803.7 1403.9,805.2 1404.1,806.7 1404.2,808.2 1404.4,809.7 1404.5,811.2 1404.6,812.7 1404.8,814.2 1404.9,815.7 1405.1,817.2 1405.2,818.7 1405.3,820.2 1405.5,821.7 1405.6,823.2 1405.8,824.6 1405.9,826.1 1406.0,827.6 1406.2,829.1 1406.3,830.6 1406.4,832.1 1406.6,833.6 1406.7,835.1 1406.9,836.6 1407.0,838.1 1407.1,839.6 1407.3,841.1 1407.4,842.6 1407.6,844.0 1407.7,845.5 1407.8,847.0 1408.0,848.5 1408.1,850.0 1408.2,851.5 1408.4,853.0 1408.5,854.5 1408.7,856.0 1408.8,857.5 1408.9,859.0 1409.1,860.5 1409.2,862.0 1409.3,863.5 1409.5,864.9 1409.6,866.4 1409.7,867.9 1409.9,869.4 1410.0,870.9 1410.1,872.4 1410.3,873.9 1410.4,875.4 1410.5,876.9 1410.7,878.4 1410.8,879.9 1410.9,881.4 1411.1,882.9 1411.2,884.4 1411.3,885.8 1411.5,887.3 1411.6,888.8 1411.7,890.3 1411.9,891.8 1412.0,893.3 1412.1,894.8 1412.3,896.3 1412.4,897.8 1412.5,899.3 1412.6,900.8 1412.8,902.3 1412.9,903.8 1413.0,905.3 1413.2,906.8 1413.3,908.2 1413.4,909.7 1413.5,911.2 1413.7,912.7 1413.8,914.2 1413.9,915.7 1414.0,917.2 1414.2,918.7 1414.3,920.2 1414.4,921.7 1414.5,923.2 1414.6,924.7 1414.8,926.2 1414.9,927.7 1415.0,929.2 1415.1,930.7 1415.3,932.2 1415.4,933.6 1415.5,935.1 1415.6,936.6 1415.7,938.1 1415.9,939.6 1416.0,941.1 1416.1,942.6 1416.2,944.1 1416.3,945.6 1416.4,947.1 1416.6,948.6 1416.7,950.1 1416.8,951.6 1416.9,953.1 1417.0,954.6 1417.1,956.1 1417.2,957.6 1417.3,959.1 1417.5,960.6 1417.6,962.1 1417.7,963.5 1417.8,965.0 1417.9,966.5 1418.0,968.0 1418.1,969.5 1418.2,971.0 1418.3,972.5 1418.4,974.0 1418.5,975.5 1418.7,977.0 1418.8,978.5 1418.9,980.0 1419.0,981.5 1419.1,983.0 1419.2,984.5 1419.3,986.0 1419.4,987.5 1419.5,989.0 1419.6,990.5 1419.7,992.0 1419.8,993.5 1419.9,995.0 1420.0,996.5 1420.1,998.0 1420.2,999.5 1420.3,1001.0 1420.4,1002.5 1420.4,1004.0 1420.5,1005.5 1420.6,1007.0 1420.7,1008.5 1420.8,1010.0 1420.9,1011.5 1421.0,1013.0 1421.1,1014.5 1421.2,1016.0 1421.3,1017.5 1421.4,1019.0 1421.5,1020.5 1421.5,1022.0 1421.6,1023.5 1421.7,1025.0 1421.8,1026.5 1421.9,1027.9 1422.0,1029.4 1422.1,1030.9 1422.2,1032.4 1422.3,1033.9 1422.4,1035.4 1422.5,1036.9 1422.6,1038.4 1422.7,1039.9 1422.8,1041.4 1422.9,1042.9 1423.0,1044.4 1423.1,1045.9 1423.2,1047.4 1423.3,1048.9 1423.4,1050.4 1423.5,1051.9 1423.6,1053.4 1423.7,1054.9 1423.8,1056.4 1423.9,1057.9 1424.0,1059.4 1424.1,1060.9 1424.3,1062.4 1424.4,1063.9 1424.5,1065.4 1424.6,1066.9 1424.8,1068.4 1424.9,1069.9 1425.0,1071.4 1425.1,1072.9 1425.3,1074.4 1425.4,1075.9 1425.6,1077.4 1425.7,1078.9 1425.9,1080.3 1426.0,1081.8 1426.2,1083.3 1426.3,1084.8 1426.5,1086.3 1426.6,1087.8 1426.8,1089.3 1427.0,1090.8 1427.1,1092.3 1427.3,1093.8 1427.5,1095.3 1427.7,1096.8 1427.9,1098.2 1428.0,1099.7 1428.2,1101.2 1428.4,1102.7 1428.6,1104.2 1428.9,1105.7 1429.1,1107.2 1429.3,1108.6 1429.5,1110.1 1429.8,1111.6 1430.0,1113.1 1430.3,1114.5 1430.6,1116.0 1430.9,1117.5 1431.2,1118.9 1431.5,1120.4 1431.8,1121.8 1432.2,1123.3 1432.5,1124.7 1432.9,1126.2 1433.3,1127.6 1433.7,1129.1 1434.1,1130.5 1434.6,1131.9 1435.0,1133.3 1435.5,1134.7 1436.0,1136.1 1436.5,1137.5 1437.1,1138.9 1437.6,1140.3 1438.2,1141.7 1438.7,1143.1 1439.3,1144.5 1439.9,1145.8 1440.6,1147.2 1441.2,1148.6 1441.8,1149.9 1442.5,1151.3 1443.1,1152.7 1443.8,1154.0 1444.5,1155.4 1445.2,1156.7 1445.9,1158.0 1446.6,1159.4 1447.4,1160.7 1448.1,1162.0 1448.8,1163.4 1449.6,1164.7 1450.4,1166.0 1451.1,1167.3 1451.9,1168.6 1452.7,1169.9 1453.5,1171.3 1454.2,1172.6 1455.0,1173.9 1455.8,1175.2 1456.6,1176.5 1457.4,1177.8 1458.2,1179.0 1459.1,1180.3 1459.9,1181.5 1460.8,1182.7 1461.8,1183.7 1462.8,1184.7 1463.9,1185.5 1465.1,1186.3 1466.4,1186.8 1467.8,1187.2 1469.2,1187.5 1470.7,1187.6 1472.3,1187.7 1473.9,1187.7 1475.5,1187.7 1477.1,1187.7 1478.6,1187.7 1480.2,1187.7 1481.7,1187.7 1483.2,1187.6 1484.7,1187.6 1486.2,1187.6 1487.7,1187.6 1489.2,1187.6 1490.7,1187.6 1492.2,1187.5 1493.6,1187.5 1495.1,1187.5 1496.6,1187.5 1498.0,1187.5 1499.5,1187.5 1501.0,1187.5 1502.5,1187.5 1504.0,1187.5 1505.5,1187.5 1507.0,1187.5 1508.5,1187.5 1510.0,1187.5 1511.5,1187.5 1513.0,1187.5 1514.5,1187.5 1516.0,1187.5 1517.5,1187.5 1519.0,1187.5 1520.5,1187.5 1522.0,1187.5 1523.5,1187.5 1525.0,1187.5 1526.5,1187.5 1528.0,1187.5 1529.5,1187.5 1531.0,1187.5 1532.5,1187.5 1534.0,1187.5 1535.5,1187.5 1537.0,1187.5 1538.5,1187.5 1540.0,1187.5 2019.3,1187.5" fill="none" stroke="#00b050" stroke-width="13" stroke-linecap="round" stroke-linejoin="round"/>
<path d="M259.0,1187.5L260.5,1187.5 262.0,1187.4 263.5,1187.4 265.0,1187.4 266.5,1187.4 268.0,1187.4 269.5,1187.4 271.0,1187.4 272.5,1187.3 274.0,1187.3 275.5,1187.3 277.0,1187.3 278.5,1187.3 280.0,1187.2 281.5,1187.2 283.0,1187.2 284.5,1187.2 286.0,1187.2 287.5,1187.1 289.0,1187.1 290.5,1187.1 292.0,1187.1 293.5,1187.0 295.0,1187.0 296.5,1187.0 298.0,1186.9 299.5,1186.9 301.0,1186.9 302.5,1186.9 304.0,1186.8 305.5,1186.8 307.0,1186.8 308.5,1186.7 310.0,1186.7 311.5,1186.7 313.0,1186.6 314.5,1186.6 316.0,1186.6 317.5,1186.6 319.0,1186.5 320.5,1186.5 322.0,1186.5 323.5,1186.4 325.0,1186.4 326.5,1186.4 328.0,1186.3 329.5,1186.3 331.0,1186.2 332.5,1186.2 334.0,1186.2 335.5,1186.1 337.0,1186.1 338.5,1186.1 340.0,1186.0 341.5,1186.0 343.0,1186.0 344.5,1185.9 346.0,1185.9 347.5,1185.9 349.0,1185.8 350.5,1185.8 352.0,1185.8 353.5,1185.7 355.0,1185.7 356.5,1185.7 358.0,1185.6 359.5,1185.6 361.0,1185.6 362.5,1185.5 364.0,1185.5 365.5,1185.5 367.0,1185.4 368.5,1185.4 370.0,1185.4 371.5,1185.3 373.0,1185.3 374.5,1185.3 376.0,1185.2 377.5,1185.2 379.0,1185.2 380.5,1185.1 382.0,1185.1 383.5,1185.1 385.0,1185.0 386.5,1185.0 388.0,1185.0 389.5,1185.0 391.0,1184.9 392.5,1184.9 394.0,1184.9 395.5,1184.8 397.0,1184.8 398.5,1184.8 400.0,1184.8 401.5,1184.7 403.0,1184.7 404.5,1184.7 406.0,1184.7 407.5,1184.6 409.0,1184.6 410.5,1184.6 412.0,1184.6 413.5,1184.5 415.0,1184.5 416.5,1184.5 418.0,1184.5 419.5,1184.5 421.0,1184.4 422.5,1184.4 424.0,1184.4 425.5,1184.4 427.0,1184.4 428.5,1184.3 430.0,1184.3 431.5,1184.3 433.0,1184.3 434.5,1184.3 436.0,1184.2 437.5,1184.2 439.0,1184.2 440.5,1184.2 442.0,1184.2 443.5,1184.1 445.0,1184.1 446.5,1184.1 448.0,1184.1 449.5,1184.1 451.0,1184.1 452.5,1184.0 454.0,1184.0 455.5,1184.0 457.0,1184.0 458.5,1184.0 460.0,1184.0 461.5,1183.9 463.0,1183.9 464.6,1183.9 466.1,1183.9 467.6,1183.9 469.1,1183.9 470.6,1183.8 472.1,1183.8 473.6,1183.8 475.1,1183.8 476.6,1183.8 478.1,1183.8 479.6,1183.8 481.1,1183.7 482.6,1183.7 484.1,1183.7 485.6,1183.7 487.1,1183.7 488.6,1183.7 490.1,1183.7 491.6,1183.7 493.1,1183.6 494.6,1183.6 496.1,1183.6 497.6,1183.6 499.1,1183.6 500.6,1183.6 502.1,1183.6 503.6,1183.6 505.1,1183.5 506.6,1183.5 508.1,1183.5 509.6,1183.5 511.1,1183.5 512.6,1183.5 514.1,1183.5 515.6,1183.5 517.1,1183.4 518.6,1183.4 520.1,1183.4 521.6,1183.4 523.1,1183.4 524.6,1183.4 526.1,1183.4 527.6,1183.4 529.1,1183.3 530.6,1183.3 532.1,1183.3 533.6,1183.3 535.1,1183.3 536.6,1183.3 538.1,1183.3 539.6,1183.3 541.1,1183.2 542.6,1183.2 544.1,1183.2 545.6,1183.2 547.1,1183.2 548.6,1183.2 550.1,1183.2 551.6,1183.2 553.1,1183.1 554.6,1183.1 556.1,1183.1 557.6,1183.1 559.1,1183.1 560.6,1183.0 562.1,1183.0 563.6,1183.0 565.1,1183.0 566.6,1182.9 568.1,1182.9 569.6,1182.9 571.1,1182.9 572.6,1182.8 574.1,1182.8 575.6,1182.7 577.1,1182.7 578.6,1182.7 580.1,1182.6 581.6,1182.6 583.1,1182.5 584.6,1182.5 586.1,1182.4 587.6,1182.3 589.1,1182.3 590.6,1182.2 592.1,1182.1 593.6,1182.1 595.1,1182.0 596.6,1181.9 598.1,1181.8 599.6,1181.7 601.1,1181.6 602.6,1181.5 604.1,1181.4 605.6,1181.3 607.1,1181.2 608.5,1181.1 610.0,1181.0 611.5,1180.9 613.0,1180.8 614.5,1180.6 616.0,1180.5 617.5,1180.4 619.0,1180.2 620.5,1180.1 622.0,1180.0 623.5,1179.8 625.0,1179.7 626.5,1179.5 628.0,1179.4 629.5,1179.2 631.0,1179.1 632.5,1178.9 634.0,1178.8 635.4,1178.6 636.9,1178.5 638.4,1178.3 639.9,1178.2 641.4,1178.1 642.9,1177.9 644.4,1177.8 645.9,1177.6 647.4,1177.5 648.9,1177.3 650.4,1177.2 651.9,1177.0 653.4,1176.9 654.9,1176.8 656.4,1176.6 657.9,1176.5 659.4,1176.4 660.9,1176.2 662.4,1176.1 663.9,1175.9 665.4,1175.8 666.8,1175.7 668.3,1175.5 669.8,1175.4 671.3,1175.2 672.8,1175.0 674.3,1174.9 675.8,1174.7 677.3,1174.5 678.8,1174.4 680.3,1174.2 681.7,1174.0 683.2,1173.8 684.7,1173.6 686.2,1173.3 687.7,1173.1 689.2,1172.9 690.6,1172.6 692.1,1172.4 693.6,1172.1 695.1,1171.9 696.5,1171.6 698.0,1171.3 699.5,1171.0 701.0,1170.8 702.4,1170.5 703.9,1170.2 705.4,1169.9 706.8,1169.5 708.3,1169.2 709.8,1168.9 711.2,1168.6 712.7,1168.3 714.2,1167.9 715.6,1167.6 717.1,1167.3 718.6,1166.9 720.0,1166.6 721.5,1166.2 723.0,1165.9 724.4,1165.5 725.9,1165.2 727.3,1164.8 728.8,1164.5 730.3,1164.1 731.7,1163.8 733.2,1163.4 734.6,1163.1 736.1,1162.7 737.6,1162.3 739.0,1162.0 740.5,1161.7 741.9,1161.3 743.4,1161.0 744.9,1160.6 746.3,1160.3 747.8,1160.0 749.3,1159.7 750.7,1159.4 752.2,1159.1 753.7,1158.8 755.1,1158.5 756.6,1158.2 758.1,1157.9 759.5,1157.7 761.0,1157.4 762.5,1157.2 764.0,1157.0 765.5,1156.8 766.9,1156.6 768.4,1156.4 769.9,1156.3 771.4,1156.1 772.9,1156.0 774.4,1155.9 775.9,1155.7 777.4,1155.7 778.9,1155.6 780.4,1155.5 781.9,1155.4 783.4,1155.4 784.9,1155.3 786.4,1155.3 787.9,1155.3 789.4,1155.2 790.9,1155.2 792.4,1155.2 793.9,1155.2 795.4,1155.2 796.9,1155.2 798.4,1155.2 799.9,1155.2 801.5,1155.2 803.0,1155.2 804.5,1155.2 806.0,1155.2 807.5,1155.2 809.0,1155.2 810.5,1155.2 812.0,1155.2 813.5,1155.2 815.0,1155.2 816.5,1155.2 818.0,1155.2 819.5,1155.2 821.0,1155.2 822.5,1155.2 824.0,1155.2 825.5,1155.2 827.0,1155.2 828.5,1155.2 830.0,1155.2 831.5,1155.2 832.9,1155.2 834.4,1155.2 835.9,1155.2 837.4,1155.2 838.9,1155.2 840.4,1155.1 841.9,1155.1 843.4,1155.1 844.9,1155.1 846.4,1155.0 847.9,1155.0 849.4,1154.9 850.9,1154.9 852.4,1154.8 853.9,1154.8 855.4,1154.7 856.9,1154.6 858.4,1154.6 859.9,1154.5 861.4,1154.4 862.9,1154.3 864.4,1154.2 865.9,1154.1 867.4,1154.0 868.9,1153.9 870.4,1153.7 871.9,1153.6 873.4,1153.5 874.9,1153.3 876.4,1153.2 877.9,1153.0 879.4,1152.8 880.9,1152.7 882.4,1152.5 883.9,1152.3 885.3,1152.1 886.8,1151.9 888.3,1151.7 889.8,1151.5 891.3,1151.3 892.8,1151.0 894.3,1150.8 895.8,1150.6 897.2,1150.3 898.7,1150.1 900.2,1149.8 901.7,1149.5 903.2,1149.2 904.6,1149.0 906.1,1148.7 907.6,1148.4 909.1,1148.0 910.5,1147.7 912.0,1147.4 913.5,1147.1 914.9,1146.7 916.4,1146.4 917.8,1146.0 919.3,1145.6 920.7,1145.3 922.2,1144.9 923.6,1144.5 925.1,1144.1 926.5,1143.7 928.0,1143.2 929.4,1142.8 930.8,1142.4 932.3,1141.9 933.7,1141.5 935.1,1141.0 936.5,1140.5 938.0,1140.1 939.4,1139.6 940.8,1139.1 942.2,1138.6 943.6,1138.1 945.0,1137.5 946.4,1137.0 947.8,1136.5 949.2,1135.9 950.6,1135.3 952.0,1134.8 953.4,1134.2 954.7,1133.6 956.1,1133.0 957.5,1132.4 958.9,1131.8 960.2,1131.2 961.6,1130.6 962.9,1129.9 964.3,1129.3 965.6,1128.6 967.0,1128.0 968.3,1127.3 969.7,1126.6 971.0,1126.0 972.3,1125.3 973.7,1124.6 975.0,1123.9 976.3,1123.2 977.6,1122.4 978.9,1121.7 980.3,1121.0 981.6,1120.2 982.9,1119.5 984.2,1118.7 985.5,1118.0 986.7,1117.2 988.0,1116.4 989.3,1115.6 990.6,1114.8 991.9,1114.0 993.1,1113.2 994.4,1112.4 995.7,1111.6 996.9,1110.8 998.2,1110.0 999.4,1109.1 1000.7,1108.3 1001.9,1107.4 1003.1,1106.6 1004.4,1105.7 1005.6,1104.8 1006.8,1104.0 1008.0,1103.1 1009.2,1102.2 1010.4,1101.3 1011.6,1100.4 1012.8,1099.5 1014.0,1098.6 1015.2,1097.6 1016.4,1096.7 1017.6,1095.8 1018.8,1094.8 1019.9,1093.9 1021.1,1093.0 1022.3,1092.0 1023.4,1091.0 1024.6,1090.1 1025.7,1089.1 1026.8,1088.1 1028.0,1087.1 1029.1,1086.2 1030.2,1085.2 1031.4,1084.2 1032.5,1083.2 1033.6,1082.2 1034.7,1081.1 1035.8,1080.1 1036.9,1079.1 1038.0,1078.1 1039.1,1077.0 1040.2,1076.0 1041.2,1075.0 1042.3,1073.9 1043.4,1072.9 1044.4,1071.8 1045.5,1070.8 1046.6,1069.7 1047.6,1068.7 1048.7,1067.6 1049.7,1066.5 1050.8,1065.5 1051.8,1064.4 1052.9,1063.3 1053.9,1062.2 1055.0,1061.2 1056.0,1060.1 1057.1,1059.0 1058.1,1057.9 1059.1,1056.8 1060.2,1055.7 1061.2,1054.7 1062.2,1053.6 1063.3,1052.5 1064.3,1051.4 1065.3,1050.3 1066.4,1049.2 1067.4,1048.1 1068.4,1047.1 1069.5,1046.0 1070.5,1044.9 1071.5,1043.8 1072.6,1042.7 1073.6,1041.6 1074.7,1040.5 1075.7,1039.5 1076.7,1038.4 1077.8,1037.3 1078.8,1036.2 1079.9,1035.1 1080.9,1034.1 1082.0,1033.0 1083.0,1031.9 1084.1,1030.8 1085.1,1029.7 1086.1,1028.6 1087.2,1027.5 1088.2,1026.5 1089.2,1025.4 1090.2,1024.2 1091.2,1023.1 1092.2,1022.0 1093.2,1020.9 1094.2,1019.8 1095.2,1018.6 1096.1,1017.5 1097.1,1016.3 1098.0,1015.2 1099.0,1014.0 1099.9,1012.8 1100.9,1011.7 1101.8,1010.5 1102.7,1009.3 1103.6,1008.1 1104.5,1006.9 1105.5,1005.7 1106.4,1004.6 1107.3,1003.4 1108.2,1002.2 1109.1,1001.0 1110.0,999.8 1110.9,998.6 1111.8,997.4 1112.8,996.2 1113.7,995.0 1114.6,993.8 1115.5,992.6 1116.4,991.5 1117.4,990.3 1118.3,989.1 1119.2,987.9 1120.1,986.7 1121.1,985.6 1122.0,984.4 1122.9,983.2 1123.9,982.0 1124.8,980.8 1125.7,979.7 1126.6,978.5 1127.6,977.3 1128.5,976.1 1129.4,974.9 1130.3,973.7 1131.2,972.5 1132.1,971.3 1133.0,970.1 1133.9,968.9 1134.8,967.7 1135.7,966.5 1136.5,965.3 1137.4,964.1 1138.3,962.9 1139.1,961.6 1140.0,960.4 1140.9,959.2 1141.7,957.9 1142.6,956.7 1143.4,955.5 1144.3,954.2 1145.1,953.0 1145.9,951.7 1146.8,950.5 1147.6,949.3 1148.5,948.0 1149.3,946.8 1150.2,945.5 1151.0,944.3 1151.8,943.1 1152.7,941.8 1153.5,940.6 1154.4,939.3 1155.2,938.1 1156.1,936.9 1156.9,935.6 1157.8,934.4 1158.6,933.1 1159.5,931.9 1160.3,930.6 1161.2,929.4 1162.0,928.2 1162.8,926.9 1163.7,925.7 1164.5,924.4 1165.3,923.2 1166.2,921.9 1167.0,920.6 1167.8,919.4 1168.6,918.1 1169.4,916.8 1170.2,915.6 1171.0,914.3 1171.8,913.0 1172.5,911.7 1173.3,910.5 1174.1,909.2 1174.8,907.9 1175.6,906.6 1176.3,905.3 1177.0,904.0 1177.7,902.6 1178.4,901.3 1179.1,900.0 1179.8,898.7 1180.5,897.3 1181.2,896.0 1181.8,894.6 1182.5,893.3 1183.1,891.9 1183.8,890.6 1184.4,889.2 1185.1,887.9 1185.7,886.5 1186.4,885.2 1187.0,883.8 1187.6,882.4 1188.3,881.1 1188.9,879.7 1189.5,878.4 1190.2,877.0 1190.8,875.6 1191.5,874.3 1192.1,872.9 1192.8,871.6 1193.5,870.2 1194.1,868.9 1194.8,867.6 1195.5,866.2 1196.1,864.9 1196.8,863.5 1197.5,862.2 1198.2,860.9 1198.9,859.5 1199.6,858.2 1200.3,856.9 1200.9,855.5 1201.6,854.2 1202.3,852.9 1203.0,851.5 1203.7,850.2 1204.4,848.9 1205.1,847.5 1205.8,846.2 1206.5,844.9 1207.1,843.5 1207.8,842.2 1208.5,840.9 1209.2,839.5 1209.9,838.2 1210.5,836.8 1211.2,835.5 1211.9,834.2 1212.5,832.8 1213.2,831.5 1213.8,830.1 1214.5,828.8 1215.2,827.4 1215.8,826.1 1216.5,824.7 1217.1,823.4 1217.8,822.0 1218.4,820.7 1219.1,819.3 1219.7,818.0 1220.3,816.6 1221.0,815.2 1221.6,813.9 1222.3,812.5 1222.9,811.2 1223.6,809.8 1224.2,808.5 1224.9,807.1 1225.5,805.8 1226.2,804.4 1226.8,803.1 1227.5,801.7 1228.1,800.4 1228.8,799.0 1229.4,797.7 1230.0,796.3 1230.7,794.9 1231.3,793.6 1231.9,792.2 1232.5,790.8 1233.1,789.5 1233.7,788.1 1234.3,786.7 1234.9,785.3 1235.4,784.0 1236.0,782.6 1236.6,781.2 1237.2,779.8 1237.8,778.4 1238.3,777.0 1238.9,775.7 1239.5,774.3 1240.1,772.9 1240.6,771.5 1241.2,770.1 1241.8,768.7 1242.4,767.4 1243.0,766.0 1243.6,764.6 1244.2,763.2 1244.8,761.8 1245.4,760.5 1246.0,759.1 1246.6,757.7 1247.2,756.4 1247.8,755.0 1248.5,753.6 1249.1,752.3 1249.7,750.9 1250.4,749.5 1251.0,748.2 1251.6,746.8 1252.2,745.5 1252.9,744.1 1253.5,742.7 1254.1,741.4 1254.7,740.0 1255.4,738.6 1256.0,737.3 1256.6,735.9 1257.2,734.5 1257.8,733.2 1258.4,731.8 1259.1,730.4 1259.7,729.0 1260.3,727.7 1260.8,726.3 1261.4,724.9 1262.0,723.5 1262.6,722.2 1263.2,720.8 1263.8,719.4 1264.3,718.0 1264.9,716.6 1265.5,715.2 1266.0,713.8 1266.6,712.5 1267.2,711.1 1267.7,709.7 1268.3,708.3 1268.8,706.9 1269.4,705.5 1269.9,704.1 1270.5,702.7 1271.0,701.3 1271.5,699.9 1272.1,698.5 1272.6,697.1 1273.2,695.7 1273.7,694.3 1274.2,692.9 1274.8,691.5 1275.3,690.1 1275.8,688.7 1276.4,687.3 1276.9,685.9 1277.4,684.5 1278.0,683.1 1278.5,681.7 1279.0,680.3 1279.5,678.9 1280.1,677.5 1280.6,676.0 1281.1,674.6 1281.7,673.2 1282.2,671.8 1282.7,670.4 1283.2,669.0 1283.8,667.6 1284.3,666.2 1284.8,664.8 1285.4,663.4 1285.9,662.0 1286.5,660.6 1287.0,659.2 1287.5,657.8 1288.1,656.4 1288.6,655.0 1289.2,653.6 1289.7,652.2 1290.3,650.8 1290.8,649.4 1291.3,648.0 1291.9,646.6 1292.4,645.2 1293.0,643.8 1293.5,642.4 1294.1,641.1 1294.6,639.7 1295.2,638.3 1295.7,636.9 1296.2,635.5 1296.8,634.1 1297.3,632.7 1297.8,631.3 1298.3,629.8 1298.9,628.4 1299.4,627.0 1299.9,625.6 1300.4,624.2 1300.9,622.8 1301.4,621.4 1301.8,619.9 1302.3,618.5 1302.8,617.1 1303.2,615.7 1303.7,614.2 1304.2,612.8 1304.6,611.4 1305.1,609.9 1305.5,608.5 1305.9,607.1 1306.4,605.6 1306.8,604.2 1307.3,602.8 1307.7,601.3 1308.1,599.9 1308.6,598.5 1309.0,597.0 1309.5,595.6 1309.9,594.2 1310.3,592.7 1310.8,591.3 1311.2,589.8 1311.6,588.4 1312.0,587.0 1312.5,585.5 1312.9,584.1 1313.3,582.6 1313.8,581.2 1314.2,579.8 1314.6,578.3 1315.0,576.9 1315.5,575.5 1315.9,574.0 1316.3,572.6 1316.7,571.1 1317.2,569.7 1317.6,568.3 1318.0,566.8 1318.4,565.4 1318.9,563.9 1319.3,562.5 1319.7,561.1 1320.1,559.6 1320.5,558.2 1320.9,556.7 1321.4,555.3 1321.8,553.9 1322.2,552.4 1322.6,551.0 1323.0,549.5 1323.4,548.1 1323.8,546.6 1324.3,545.2 1324.7,543.8 1325.1,542.3 1325.5,540.9 1325.9,539.4 1326.3,538.0 1326.7,536.5 1327.1,535.1 1327.5,533.7 1327.9,532.2 1328.4,530.8 1328.8,529.3 1329.2,527.9 1329.6,526.4 1330.0,525.0 1330.4,523.5 1330.8,522.1 1331.2,520.7 1331.6,519.2 1332.0,517.8 1332.4,516.3 1332.8,514.9 1333.2,513.4 1333.6,512.0 1334.0,510.5 1334.4,509.1 1334.8,507.6 1335.2,506.2 1335.6,504.7 1336.0,503.3 1336.4,501.9 1336.8,500.4 1337.2,499.0 1337.6,497.5 1338.0,496.1 1338.4,494.6 1338.8,493.2 1339.2,491.7 1339.6,490.3 1340.0,488.8 1340.4,487.4 1340.8,485.9 1341.2,484.5 1341.6,483.1 1342.0,481.6 1342.4,480.2 1342.8,478.7 1343.3,477.3 1343.7,475.8 1344.1,474.4 1344.5,473.0 1344.9,471.5 1345.3,470.1 1345.7,468.6 1346.2,467.2 1346.6,465.8 1347.0,464.3 1347.4,462.9 1347.9,461.4 1348.3,460.0 1348.7,458.6 1349.2,457.1 1349.6,455.7 1350.1,454.3 1350.5,452.8 1350.9,451.4 1351.4,450.0 1351.8,448.5 1352.3,447.1 1352.7,445.7 1353.2,444.3 1353.7,442.8 1354.1,441.4 1354.6,440.0 1355.1,438.6 1355.5,437.1 1356.0,435.7 1356.5,434.3 1357.0,432.9 1357.5,431.4 1357.9,430.0 1358.4,428.6 1358.9,427.2 1359.4,425.8 1359.9,424.4 1360.4,423.0 1360.9,421.5 1361.5,420.1 1362.0,418.7 1362.5,417.3 1363.0,415.9 1363.6,414.5 1364.1,413.1 1364.6,411.7 1365.2,410.3 1365.7,408.9 1366.3,407.5 1366.8,406.1 1367.4,404.7 1368.0,403.3 1368.5,401.9 1369.1,400.5 1369.7,399.2 1370.3,397.8 1370.8,396.4 1371.4,395.0 1372.0,393.6 1372.6,392.2 1373.2,390.9 1373.9,389.5 1374.5,388.1 1375.1,386.8 1375.7,385.4 1376.3,384.0 1377.0,382.7 1377.6,381.3 1378.2,379.9 1378.9,378.6 1379.5,377.2 1380.2,375.9 1380.8,374.6 1381.5,373.2 1382.2,371.9 1382.8,370.6 1383.5,369.2 1384.2,367.9 1384.9,366.6 1385.6,365.3 1386.4,364.0 1387.1,362.7 1387.9,361.4 1388.7,360.2 1389.4,358.9 1390.2,357.6 1391.1,356.4 1391.9,355.1 1392.7,353.9 1393.6,352.7 1394.5,351.4 1395.4,350.2 1396.3,349.0 1397.2,347.8 1398.1,346.6 1399.1,345.5 1400.1,344.3 1401.1,343.1 1402.1,342.0 1403.1,340.9 1404.2,339.8 1405.2,338.7 1406.3,337.6 1407.4,336.6 1408.6,335.6 1409.7,334.6 1410.9,333.7 1412.0,332.7 1413.2,331.8 1414.5,331.0 1415.7,330.2 1417.0,329.4 1418.2,328.6 1419.5,327.9 1420.8,327.3 1422.2,326.7 1423.5,326.1 1424.9,325.6 1426.3,325.1 1427.7,324.7 1429.1,324.3 1430.5,323.9 1432.0,323.6 1433.4,323.2 1434.9,323.0 1436.4,322.7 1437.8,322.5 1439.3,322.3 1440.8,322.2 1442.3,322.0 1443.8,321.9 1445.3,321.8 1446.8,321.7 1448.3,321.6 1449.8,321.6 1451.3,321.6 1452.9,321.5 1454.4,321.5 1455.9,321.5 1457.4,321.5 1458.9,321.6 1460.4,321.6 1461.9,321.6 1463.4,321.7 1465.0,321.7 1466.5,321.8 1468.0,321.8 1469.5,321.9 1471.0,321.9 1472.5,322.0 1474.0,322.0 1475.5,322.1 1477.0,322.1 1478.5,322.2 1480.1,322.2 1481.6,322.2 1483.1,322.2 1484.6,322.2 1486.0,322.3 1487.5,322.3 1489.0,322.2 1490.5,322.2 1492.0,322.2 1493.5,322.2 1495.0,322.2 1496.5,322.2 1498.0,322.1 1499.5,322.1 1501.0,322.1 1502.5,322.1 1504.0,322.1 1505.5,322.0 1507.0,322.0 1508.5,322.0 1510.0,322.0 1511.5,322.0 1513.0,321.9 1514.5,321.9 1516.0,321.9 1517.5,321.9 1519.0,321.9 1520.5,321.9 1522.0,321.9 1523.5,321.9 1525.0,321.9 1526.5,321.9 1528.0,321.9 1529.5,321.9 1531.0,321.9 1532.5,321.9 1534.0,321.9 1535.5,321.9 1537.0,322.0 1538.5,322.0 1540.0,322.0 2019.3,322.0" fill="none" stroke="#e00000" stroke-width="14" stroke-linecap="round" stroke-linejoin="round"/>
</g>
<line x1="248" y1="47" x2="470" y2="47" stroke="#00b050" stroke-width="13.5"/>
<line x1="1329" y1="63.8" x2="1551" y2="63.8" stroke="#e00000" stroke-width="14"/>
<text x="516" y="76.8" font-size="69" textLength="716" lengthAdjust="spacingAndGlyphs">Particle size distribution</text>
<text x="1625" y="86.3" font-size="69" textLength="533" lengthAdjust="spacingAndGlyphs">Cumulative curve</text>
<text x="196" y="1210.4" font-size="77" text-anchor="end">0</text>
<text x="2247.0" y="1210.4" font-size="77">0</text>
<text x="196" y="1037.3" font-size="77" text-anchor="end">1</text>
<text x="2247.0" y="1037.3" font-size="77">20</text>
<text x="196" y="864.3" font-size="77" text-anchor="end">2</text>
<text x="2247.0" y="864.3" font-size="77">40</text>
<text x="196" y="691.2" font-size="77" text-anchor="end">3</text>
<text x="2247.0" y="691.2" font-size="77">60</text>
<text x="196" y="518.1" font-size="77" text-anchor="end">4</text>
<text x="2247.0" y="518.1" font-size="77">80</text>
<text x="196" y="345.1" font-size="77" text-anchor="end">5</text>
<text x="2250.5" y="345.1" font-size="77" textLength="111" lengthAdjust="spacingAndGlyphs">100</text>
<text x="196" y="172.0" font-size="77" text-anchor="end">6</text>
<text x="2250.5" y="172.0" font-size="77" textLength="111" lengthAdjust="spacingAndGlyphs">120</text>
<text x="258.1" y="1296.8" font-size="77" text-anchor="middle" textLength="127.5" lengthAdjust="spacingAndGlyphs">0.01</text>
<text x="583.5" y="1296.8" font-size="77" text-anchor="middle" textLength="88.7" lengthAdjust="spacingAndGlyphs">0.1</text>
<text x="909.9" y="1296.8" font-size="77" text-anchor="middle" textLength="29.0" lengthAdjust="spacingAndGlyphs">1</text>
<text x="1237.8" y="1296.8" font-size="77" text-anchor="middle" textLength="73.6" lengthAdjust="spacingAndGlyphs">10</text>
<text x="1564.2" y="1296.8" font-size="77" text-anchor="middle" textLength="112.2" lengthAdjust="spacingAndGlyphs">100</text>
<text x="1890.1" y="1296.8" font-size="77" text-anchor="middle" textLength="148.6" lengthAdjust="spacingAndGlyphs">1000</text>
<text x="928" y="1391.7" font-size="79" font-weight="bold" textLength="588.5" lengthAdjust="spacingAndGlyphs">Particle size [&#956;m]</text>
<text transform="translate(100,1165.5) rotate(-90)" x="0" y="0" font-size="79" font-weight="bold" textLength="977" lengthAdjust="spacingAndGlyphs">Particle size distribution [%]</text>
<text transform="translate(2464,1042) rotate(-90)" x="0" y="0" font-size="79" font-weight="bold" textLength="748" lengthAdjust="spacingAndGlyphs">Cumulative curve [%]</text>
</svg></body></html>
